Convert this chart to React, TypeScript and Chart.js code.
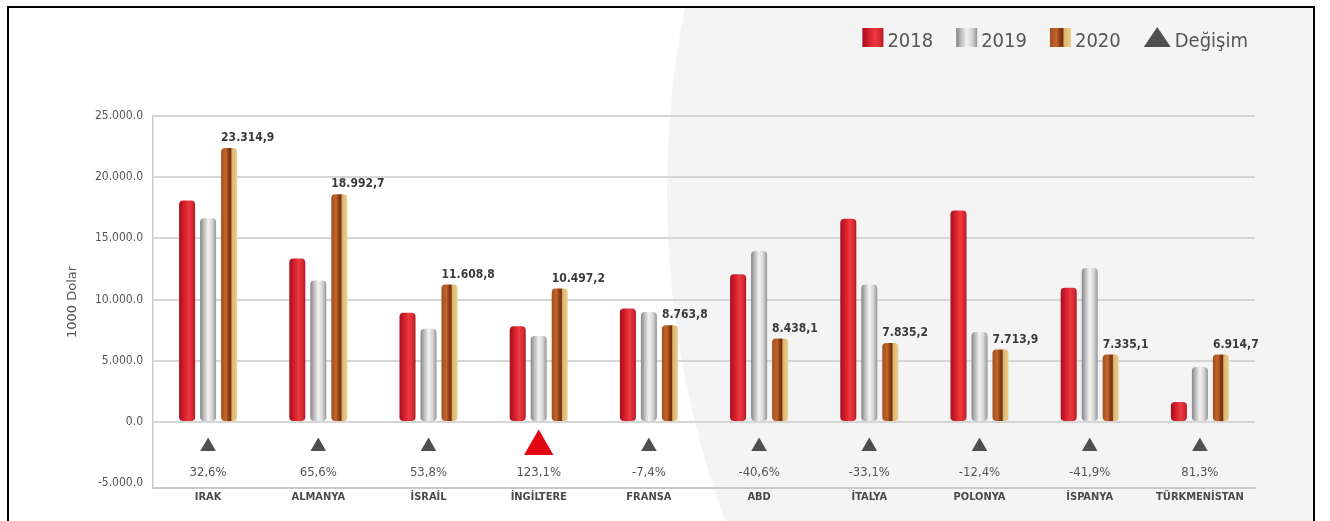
import { useEffect, useRef } from 'react';
import { Chart, registerables } from 'chart.js';

Chart.register(...registerables);

// ---------- DATA ----------
const categories = ['IRAK', 'ALMANYA', 'İSRAİL', 'İNGİLTERE', 'FRANSA', 'ABD', 'İTALYA', 'POLONYA', 'İSPANYA', 'TÜRKMENİSTAN'];
const seriesLabels = ['2018', '2019', '2020', 'Değişim'];
const values2018 = [18100, 13360, 8930, 7810, 9260, 12060, 16600, 17280, 10970, 1630];
const values2019 = [16640, 11560, 7620, 7020, 8980, 13960, 11240, 7350, 12570, 4490];
const values2020 = [22380, 18600, 11230, 10900, 7890, 6810, 6450, 5910, 5500, 5500];
const labels2020 = ['23.314,9', '18.992,7', '11.608,8', '10.497,2', '8.763,8', '8.438,1', '7.835,2', '7.713,9', '7.335,1', '6.914,7'];
const changeLabels = ['32,6%', '65,6%', '53,8%', '123,1%', '-7,4%', '-40,6%', '-33,1%', '-12,4%', '-41,9%', '81,3%'];
const changeHighlight = [false, false, false, true, false, false, false, false, false, false];
const changeMarkerLevel = [-2000, -2000, -2000, -2000, -2000, -2000, -2000, -2000, -2000, -2000];
const yTicks = [-5000, 0, 5000, 10000, 15000, 20000, 25000];
const yTickLabels = ['-5.000.0', '0.0', '5.000.0', '10.000.0', '15.000.0', '20.000.0', '25.000.0'];
const yTitle = '1000 Dolar';

// ---------- STYLE ----------
const gradientStops: Array<Array<[number, string]>> = [
  [[0, '#a50f1d'], [0.25, '#cc1a2a'], [0.6, '#ec3a3e'], [0.85, '#d62832'], [1, '#b0141f']],
  [[0, '#848484'], [0.2, '#b4b4b4'], [0.5, '#f3f3f3'], [0.75, '#d6d6d6'], [1, '#959595']],
  [[0, '#a24d1c'], [0.3, '#c2662e'], [0.48, '#8d3b15'], [0.6, '#73300f'], [0.68, '#dcb46c'], [1, '#ebcf8d']],
];
const baseColors = ['#d42430', '#c8c8c8', '#b8602c'];
const markerGray = '#4f4f4f';
const markerRed = '#e30613';
const textGray = '#555555';
const gridGray = '#d5d5d5';
const CANVAS_W = 1304;
const CANVAS_H = 513;

function makeGradient(ctx: CanvasRenderingContext2D, x0: number, x1: number, di: number) {
  const g = ctx.createLinearGradient(x0, 0, x1, 0);
  gradientStops[di].forEach(([o, c]) => g.addColorStop(o, c));
  return g;
}

const barGradientPlugin = {
  id: 'barGradient',
  beforeDatasetsDraw(chart: any) {
    const ctx = chart.ctx;
    chart.data.datasets.forEach((ds: any, di: number) => {
      if (ds.type !== 'bar') return;
      const meta = chart.getDatasetMeta(di);
      meta.data.forEach((el: any) => {
        const { x, width } = el.getProps(['x', 'width'], true);
        el.options = Object.assign({}, el.options, {
          backgroundColor: makeGradient(ctx, x - width / 2, x + width / 2, di),
        });
      });
    });
  },
};

const textPlugin = {
  id: 'textLabels',
  afterDatasetsDraw(chart: any) {
    const ctx = chart.ctx;
    ctx.save();
    // value labels above the 2020 bars
    const meta2020 = chart.getDatasetMeta(2);
    ctx.font = 'bold 12px "DejaVu Sans Condensed"';
    ctx.fillStyle = '#3a3a3a';
    ctx.textAlign = 'left';
    ctx.textBaseline = 'alphabetic';
    meta2020.data.forEach((el: any, i: number) => {
      const { x, y, width } = el.getProps(['x', 'y', 'width'], true);
      ctx.fillText(labels2020[i], x - width / 2, y - 7);
    });
    // change labels under the triangles
    const metaChg = chart.getDatasetMeta(3);
    ctx.font = '13px "DejaVu Sans Condensed"';
    ctx.fillStyle = textGray;
    ctx.textAlign = 'center';
    ctx.textBaseline = 'middle';
    metaChg.data.forEach((el: any, i: number) => {
      const { x, y } = el.getProps(['x', 'y'], true);
      ctx.fillText(changeLabels[i], x, y + 26);
    });
    ctx.restore();
  },
};

const legendPlugin = {
  id: 'customLegend',
  afterDraw(chart: any) {
    const ctx = chart.ctx;
    ctx.save();
    ctx.font = '20px "DejaVu Sans Condensed"';
    const swW = 21;
    const triW = 27;
    const gap = 4;
    const spacing = 23;
    const right = 1239;
    const bottom = 39;
    const items = chart.data.datasets.map((ds: any, i: number) => ({ label: ds.label as string, i, isTri: ds.type === 'line' }));
    const widths = items.map((it: any) => (it.isTri ? triW : swW) + gap + ctx.measureText(it.label).width);
    const total = widths.reduce((a: number, b: number) => a + b, 0) + spacing * (items.length - 1);
    let x = right - total;
    items.forEach((it: any) => {
      if (it.isTri) {
        ctx.fillStyle = markerGray;
        ctx.beginPath();
        ctx.moveTo(x, bottom);
        ctx.lineTo(x + triW, bottom);
        ctx.lineTo(x + triW / 2, bottom - 20);
        ctx.closePath();
        ctx.fill();
        x += triW + gap;
      } else {
        ctx.fillStyle = makeGradient(ctx, x, x + swW, it.i);
        ctx.fillRect(x, bottom - 19, swW, 19);
        x += swW + gap;
      }
      ctx.fillStyle = textGray;
      ctx.textAlign = 'left';
      ctx.textBaseline = 'alphabetic';
      ctx.fillText(it.label, x, bottom);
      x += ctx.measureText(it.label).width + spacing;
    });
    ctx.restore();
  },
};

export default function App() {
  const canvasRef = useRef<HTMLCanvasElement | null>(null);

  useEffect(() => {
    if (!canvasRef.current) return;
    const barCommon = {
      type: 'bar' as const,
      categoryPercentage: 0.572,
      barPercentage: 0.762,
      borderRadius: 4,
      borderSkipped: false,
      borderWidth: 0,
      order: 2,
    };
    const chart = new Chart(canvasRef.current, {
      type: 'bar',
      data: {
        labels: categories,
        datasets: [
          { ...barCommon, label: seriesLabels[0], data: values2018, backgroundColor: () => baseColors[0] },
          { ...barCommon, label: seriesLabels[1], data: values2019, backgroundColor: () => baseColors[1] },
          { ...barCommon, label: seriesLabels[2], data: values2020, backgroundColor: () => baseColors[2] },
          {
            type: 'line',
            label: seriesLabels[3],
            data: changeMarkerLevel,
            showLine: false,
            pointStyle: 'triangle',
            pointRadius: changeHighlight.map((h) => (h ? 17 : 9)),
            pointBackgroundColor: changeHighlight.map((h) => (h ? markerRed : markerGray)),
            pointBorderColor: changeHighlight.map((h) => (h ? markerRed : markerGray)),
            pointBorderWidth: 0,
            order: 0,
          } as any,
        ],
      },
      options: {
        responsive: false,
        devicePixelRatio: 1,
        animation: false,
        events: [],
        layout: { padding: { top: 108, right: 58, bottom: 0, left: 0 } },
        plugins: {
          legend: { display: false },
          tooltip: { enabled: false },
          title: { display: false },
        },
        scales: {
          x: {
            grid: { display: true, color: 'transparent', drawTicks: false },
            border: { display: true, color: '#c9c9c9', width: 2 },
            ticks: {
              padding: 3,
              color: '#4a4a4a',
              font: { family: 'DejaVu Sans Condensed', size: 11, weight: 'bold' },
              maxRotation: 0,
              autoSkip: false,
            },
            afterFit: (s: any) => {
              s.height = 33;
            },
          },
          y: {
            min: -5400,
            max: 25000,
            afterBuildTicks: (s: any) => {
              s.ticks = yTicks.map((v) => ({ value: v }));
            },
            afterFit: (s: any) => {
              s.width = 144;
            },
            grid: {
              drawTicks: false,
              lineWidth: 2,
              color: (c: any) => (c.tick && c.tick.value === -5000 ? 'transparent' : gridGray),
            },
            border: { display: true, color: '#c9c9c9', width: 1.5 },
            ticks: {
              padding: 10,
              color: textGray,
              font: { family: 'DejaVu Sans Condensed', size: 12 },
              callback: (v: any) => {
                const idx = yTicks.indexOf(Number(v));
                return idx >= 0 ? yTickLabels[idx] : '';
              },
            },
            title: {
              display: true,
              text: yTitle,
              color: textGray,
              font: { family: 'DejaVu Sans', size: 13 },
              padding: { top: 56, bottom: 0 },
            },
          },
        },
      },
      plugins: [barGradientPlugin, textPlugin, legendPlugin],
    } as any);
    return () => chart.destroy();
  }, []);

  return (
    <div style={{ position: 'fixed', left: 0, top: 0, width: 1330, height: 521, background: '#ffffff', overflow: 'hidden' }}>
      <div
        style={{
          position: 'absolute',
          left: 7,
          top: 6,
          width: CANVAS_W,
          height: 540,
          border: '2px solid #000000',
          overflow: 'hidden',
          background: '#ffffff',
        }}
      >
        <div
          style={{
            position: 'absolute',
            left: 658,
            top: -777,
            width: 1922,
            height: 1922,
            borderRadius: '50%',
            background: '#f4f4f4',
          }}
        />
        <canvas
          ref={canvasRef}
          width={CANVAS_W}
          height={CANVAS_H}
          style={{ position: 'absolute', left: 0, top: 0, width: CANVAS_W, height: CANVAS_H }}
        />
      </div>
    </div>
  );
}
